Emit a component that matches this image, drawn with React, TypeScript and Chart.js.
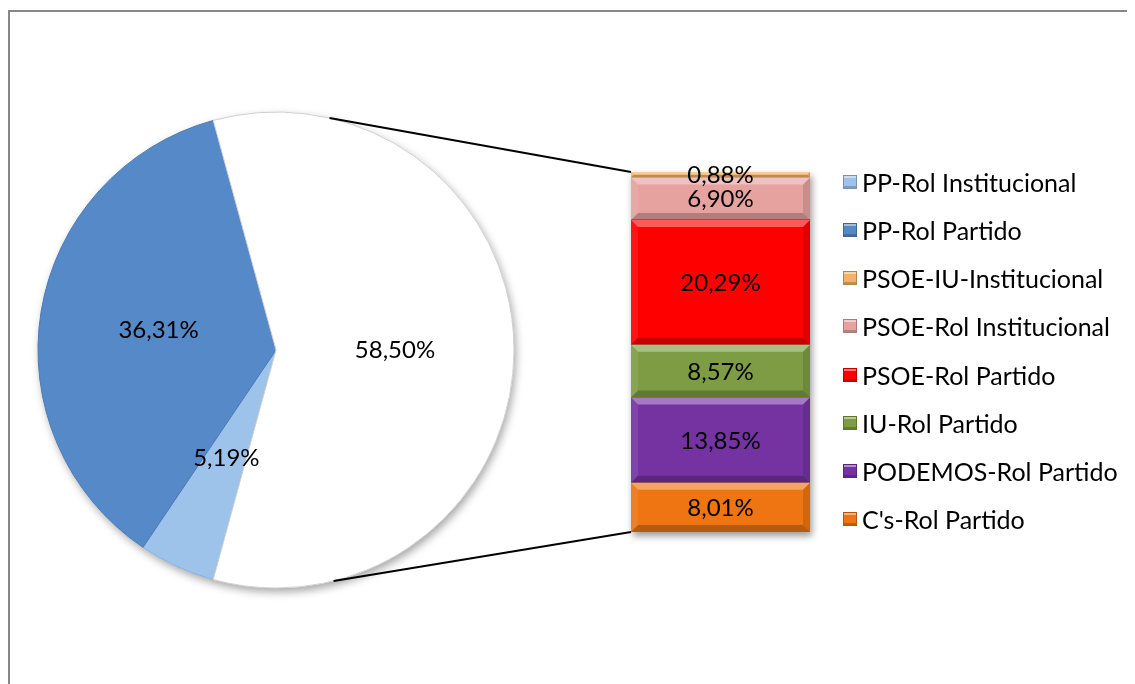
import React, { useEffect, useRef } from "react";
import { Chart, registerables } from "chart.js";

Chart.register(...registerables);

// ---- data ----
const pieLabels = ["PP-Rol Institucional", "PP-Rol Partido", "Otros"];
const pieValues = [5.19, 36.31, 58.5];
const pieColors = ["#9DC3EB", "#5589C7", "#FFFFFF"];
const pieBorders = ["#86AEDD", "#4A7AB5", "#D0D0D0"];

const barLabels = [
  "C's-Rol Partido",
  "PODEMOS-Rol Partido",
  "IU-Rol Partido",
  "PSOE-Rol Partido",
  "PSOE-Rol Institucional",
  "PSOE-IU-Institucional",
];
const barValues = [8.01, 13.85, 8.57, 20.29, 6.9, 0.88];
const barColors = ["#EE7512", "#7533A2", "#7E9C43", "#FF0000", "#E5A29F", "#F4B266"];

const legendLabels = [
  "PP-Rol Institucional",
  "PP-Rol Partido",
  "PSOE-IU-Institucional",
  "PSOE-Rol Institucional",
  "PSOE-Rol Partido",
  "IU-Rol Partido",
  "PODEMOS-Rol Partido",
  "C's-Rol Partido",
];
const legendColors = ["#9DC3EB", "#5589C7", "#F4B266", "#E5A29F", "#FF0000", "#7E9C43", "#7533A2", "#EE7512"];

const FONT = "Lato, 'Open Sans', sans-serif";
const FONT_SIZE = 24;
const LEGEND_FONT_SIZE = 25;

const fmt = (v: number) => v.toFixed(2).replace(".", ",") + "%";

// geometry (container coords)
const PIE_LEFT = 8;
const PIE_TOP = 82;
const PIE_SIZE = 520;
const BAR_LEFT = 611;
const BAR_TOP = 152;
const BAR_W = 203;
const BAR_H = 384;
const CONT_W = 1127;
const CONT_H = 676;

const pieDecor = {
  id: "pieDecor",
  beforeDatasetsDraw(chart: any) {
    const el = chart.getDatasetMeta(0).data[0];
    if (!el) return;
    const ctx = chart.ctx;
    ctx.save();
    ctx.shadowColor = "rgba(0,0,0,0.35)";
    ctx.shadowBlur = 8;
    ctx.shadowOffsetX = 2;
    ctx.shadowOffsetY = 4;
    ctx.fillStyle = "#ffffff";
    ctx.beginPath();
    ctx.arc(el.x, el.y, el.outerRadius, 0, Math.PI * 2);
    ctx.fill();
    ctx.restore();
  },
  afterDatasetsDraw(chart: any) {
    const ctx = chart.ctx;
    const meta = chart.getDatasetMeta(0);
    ctx.save();
    ctx.font = `${FONT_SIZE}px ${FONT}`;
    ctx.fillStyle = "#000";
    ctx.textAlign = "center";
    ctx.textBaseline = "middle";
    meta.data.forEach((arc: any, i: number) => {
      const p = arc.getCenterPoint();
      ctx.fillText(fmt(pieValues[i]), p.x, p.y);
    });
    ctx.restore();
  },
};

const barDecor = {
  id: "barDecor",
  beforeDatasetsDraw(chart: any) {
    const first = chart.getDatasetMeta(0).data[0];
    const last = chart.getDatasetMeta(chart.data.datasets.length - 1).data[0];
    if (!first || !last) return;
    const ctx = chart.ctx;
    const l = first.x - first.width / 2;
    ctx.save();
    ctx.shadowColor = "rgba(0,0,0,0.4)";
    ctx.shadowBlur = 7;
    ctx.shadowOffsetX = 2;
    ctx.shadowOffsetY = 4;
    ctx.fillStyle = "#ffffff";
    ctx.fillRect(l, last.y, first.width, first.base - last.y);
    ctx.restore();
  },
  afterDatasetsDraw(chart: any) {
    const ctx = chart.ctx;
    ctx.save();
    chart.data.datasets.forEach((_ds: any, di: number) => {
      const el = chart.getDatasetMeta(di).data[0];
      const l = el.x - el.width / 2;
      const r = el.x + el.width / 2;
      const t = Math.min(el.y, el.base);
      const b = Math.max(el.y, el.base);
      const bv = Math.min(7, (b - t) / 2);
      const poly = (pts: number[][], color: string) => {
        ctx.fillStyle = color;
        ctx.beginPath();
        ctx.moveTo(pts[0][0], pts[0][1]);
        for (let k = 1; k < pts.length; k++) ctx.lineTo(pts[k][0], pts[k][1]);
        ctx.closePath();
        ctx.fill();
      };
      poly([[l, t], [r, t], [r - bv, t + bv], [l + bv, t + bv]], "rgba(255,255,255,0.35)");
      poly([[l, b], [r, b], [r - bv, b - bv], [l + bv, b - bv]], "rgba(0,0,0,0.22)");
      poly([[l, t], [l + bv, t + bv], [l + bv, b - bv], [l, b]], "rgba(255,255,255,0.08)");
      poly([[r, t], [r - bv, t + bv], [r - bv, b - bv], [r, b]], "rgba(0,0,0,0.12)");
    });
    ctx.font = `${FONT_SIZE}px ${FONT}`;
    ctx.fillStyle = "#000";
    ctx.textAlign = "center";
    ctx.textBaseline = "middle";
    chart.data.datasets.forEach((_ds: any, di: number) => {
      const el = chart.getDatasetMeta(di).data[0];
      const cy = (el.y + el.base) / 2;
      ctx.fillText(fmt(barValues[di]), el.x, cy + 1);
    });
    ctx.restore();
  },
};

export default function App() {
  const pieRef = useRef<HTMLCanvasElement>(null);
  const barRef = useRef<HTMLCanvasElement>(null);
  const overRef = useRef<HTMLCanvasElement>(null);

  useEffect(() => {
    const pie = new Chart(pieRef.current!, {
      type: "pie",
      data: {
        labels: pieLabels,
        datasets: [
          {
            data: pieValues,
            backgroundColor: pieColors,
            borderColor: pieBorders,
            borderWidth: 1,
          },
        ],
      },
      options: {
        responsive: false,
        animation: false,
        rotation: 195.3,
        radius: 238,
        plugins: { legend: { display: false }, tooltip: { enabled: false } },
        events: [],
      } as any,
      plugins: [pieDecor],
    });

    const bar = new Chart(barRef.current!, {
      type: "bar",
      data: {
        labels: [""],
        datasets: barLabels.map((lab, i) => ({
          label: lab,
          data: [barValues[i]],
          backgroundColor: barColors[i],
          borderWidth: 0,
          barPercentage: 1,
          categoryPercentage: 1,
        })),
      },
      options: {
        responsive: false,
        animation: false,
        layout: { padding: 12 },
        scales: {
          x: { stacked: true, display: false },
          y: { stacked: true, display: false, min: 0, max: 58.5 },
        },
        plugins: { legend: { display: false }, tooltip: { enabled: false } },
        events: [],
      },
      plugins: [barDecor],
    });

    // connector lines
    const oc = overRef.current!;
    const ctx = oc.getContext("2d")!;
    ctx.clearRect(0, 0, oc.width, oc.height);
    const arc: any = pie.getDatasetMeta(0).data[0];
    const cx = PIE_LEFT + arc.x;
    const cy = PIE_TOP + arc.y;
    const R = arc.outerRadius;
    const first: any = bar.getDatasetMeta(0).data[0];
    const last: any = bar.getDatasetMeta(barValues.length - 1).data[0];
    const bl = BAR_LEFT + first.x - first.width / 2;
    const bTop = BAR_TOP + last.y;
    const bBot = BAR_TOP + first.base;
    const aTop = (13 * Math.PI) / 180;
    const aBot = (166 * Math.PI) / 180;
    ctx.strokeStyle = "#000";
    ctx.lineWidth = 2;
    ctx.beginPath();
    ctx.moveTo(cx + R * Math.sin(aTop), cy - R * Math.cos(aTop));
    ctx.lineTo(bl, bTop);
    ctx.moveTo(cx + R * Math.sin(aBot), cy - R * Math.cos(aBot));
    ctx.lineTo(bl, bBot);
    ctx.stroke();

    return () => {
      pie.destroy();
      bar.destroy();
    };
  }, []);

  return (
    <div
      style={{
        position: "relative",
        width: CONT_W,
        height: CONT_H,
        overflow: "hidden",
        background: "#fff",
      }}
    >
      <div
        style={{
          position: "absolute",
          left: 0,
          top: 2,
          width: 1400,
          height: 900,
          borderTop: "2px solid #878787",
          borderLeft: "2px solid #878787",
        }}
      />
      <canvas
        ref={pieRef}
        width={PIE_SIZE}
        height={PIE_SIZE}
        style={{ position: "absolute", left: PIE_LEFT, top: PIE_TOP, width: PIE_SIZE, height: PIE_SIZE }}
      />
      <canvas
        ref={barRef}
        width={BAR_W}
        height={BAR_H}
        style={{ position: "absolute", left: BAR_LEFT, top: BAR_TOP, width: BAR_W, height: BAR_H }}
      />
      <canvas
        ref={overRef}
        width={CONT_W}
        height={CONT_H}
        style={{ position: "absolute", left: 0, top: 0, width: CONT_W, height: CONT_H, pointerEvents: "none" }}
      />
      <div
        style={{
          position: "absolute",
          left: 835,
          top: 150,
          fontFamily: FONT,
          fontSize: LEGEND_FONT_SIZE,
          color: "#000",
        }}
      >
        {legendLabels.map((lab, i) => (
          <div
            key={lab}
            style={{ display: "flex", alignItems: "center", height: 48.14, whiteSpace: "nowrap" }}
          >
            <span
              style={{
                display: "inline-block",
                width: 14,
                height: 14,
                marginRight: 5,
                background: legendColors[i],
                boxSizing: "border-box",
                border: "1px solid rgba(0,0,0,0.25)",
                boxShadow: "inset 0 2px 0 rgba(255,255,255,0.45), inset 0 -2px 0 rgba(0,0,0,0.2)",
              }}
            />
            <span>{lab}</span>
          </div>
        ))}
      </div>
    </div>
  );
}
